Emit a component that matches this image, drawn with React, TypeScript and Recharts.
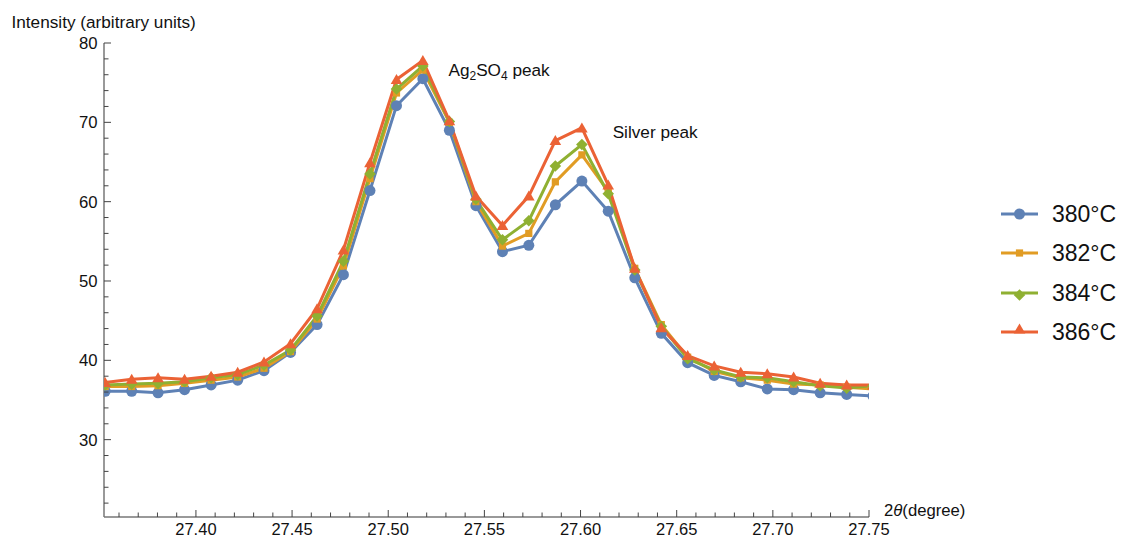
import React from 'react'
import { LineChart, Line, XAxis, YAxis, ReferenceDot } from 'recharts'

// 2θ positions of the scan points (degree)
const twoTheta = [
  27.3528, 27.3666, 27.3803, 27.3941, 27.4079, 27.4217, 27.4354, 27.4492, 27.463, 27.4767,
  27.4905, 27.5043, 27.518, 27.5318, 27.5456, 27.5594, 27.5731, 27.5869, 27.6007, 27.6144,
  27.6282, 27.642, 27.6557, 27.6695, 27.6833, 27.6971, 27.7108, 27.7246, 27.7384, 27.7521,
]

const i380 = [
  36.1, 36.1, 35.9, 36.3, 36.9, 37.5, 38.7, 41.0, 44.5, 50.8,
  61.4, 72.1, 75.5, 69.0, 59.5, 53.7, 54.5, 59.6, 62.6, 58.8,
  50.4, 43.4, 39.7, 38.1, 37.3, 36.4, 36.3, 35.9, 35.7, 35.5,
]
const i382 = [
  36.7, 36.7, 36.8, 37.1, 37.5, 37.9, 39.0, 41.1, 45.2, 51.9,
  62.9, 73.7, 76.6, 70.0, 60.0, 54.4, 56.0, 62.5, 65.9, 61.3,
  51.6, 44.5, 40.4, 38.6, 37.8, 37.5, 37.0, 36.9, 36.6, 36.4,
]
const i384 = [
  36.9, 37.0, 37.1, 37.3, 37.8, 38.2, 39.4, 41.3, 45.6, 52.5,
  63.5, 74.2, 77.1, 70.1, 60.3, 55.2, 57.6, 64.5, 67.2, 61.0,
  51.4, 44.3, 40.2, 38.8, 37.9, 37.8, 37.3, 36.8, 36.5, 36.8,
]
const i386 = [
  37.2, 37.6, 37.8, 37.6, 38.0, 38.5, 39.8, 42.1, 46.5, 53.9,
  64.9, 75.4, 77.8, 70.2, 60.7, 57.0, 60.7, 67.7, 69.3, 62.1,
  51.6, 44.1, 40.6, 39.3, 38.5, 38.3, 37.9, 37.1, 36.9, 36.9,
]

const seriesNames = ['380°C', '382°C', '384°C', '386°C']

const xTicks = [
  27.36, 27.37, 27.38, 27.39, 27.4, 27.41, 27.42, 27.43, 27.44, 27.45,
  27.46, 27.47, 27.48, 27.49, 27.5, 27.51, 27.52, 27.53, 27.54, 27.55,
  27.56, 27.57, 27.58, 27.59, 27.6, 27.61, 27.62, 27.63, 27.64, 27.65,
  27.66, 27.67, 27.68, 27.69, 27.7, 27.71, 27.72, 27.73, 27.74, 27.75,
]
const xLabels = [27.4, 27.45, 27.5, 27.55, 27.6, 27.65, 27.7, 27.75]

const yTicks = [
  22, 24, 26, 28, 30, 32, 34, 36, 38, 40, 42, 44, 46, 48, 50,
  52, 54, 56, 58, 60, 62, 64, 66, 68, 70, 72, 74, 76, 78, 80,
]
const yLabels = [30, 40, 50, 60, 70, 80]

const data = twoTheta.map((x, i) => ({
  x,
  s380: i380[i],
  s382: i382[i],
  s384: i384[i],
  s386: i386[i],
}))

const COLORS = ['#5E81B5', '#E19C24', '#8FB032', '#EB6235']
const FONT = '"Liberation Sans", Arial, sans-serif'
const AXIS = '#777'

type Shape = 'circle' | 'square' | 'diamond' | 'triangle'
const shapes: Shape[] = ['circle', 'square', 'diamond', 'triangle']

function marker(shape: Shape, cx: number, cy: number, color: string, key?: any) {
  if (shape === 'circle') return <circle key={key} cx={cx} cy={cy} r={5.5} fill={color} />
  if (shape === 'square') return <rect key={key} x={cx - 3.6} y={cy - 3.6} width={7.2} height={7.2} fill={color} />
  if (shape === 'diamond')
    return <polygon key={key} points={`${cx},${cy - 5.8} ${cx + 5.8},${cy} ${cx},${cy + 5.8} ${cx - 5.8},${cy}`} fill={color} />
  return <polygon key={key} points={`${cx},${cy - 5.5} ${cx + 5.8},${cy + 4.5} ${cx - 5.8},${cy + 4.5}`} fill={color} />
}

const makeDot = (shape: Shape, color: string) => (props: any) => {
  const { cx, cy, index } = props
  if (cx == null || cy == null) return <g key={index} />
  return marker(shape, cx, cy, color, index)
}

const XTick = (props: any) => {
  const { x, y, payload } = props
  const v = payload.value
  const major = xLabels.some((l) => Math.abs(l - v) < 1e-6)
  return (
    <g>
      <line x1={x} x2={x} y1={y} y2={y - (major ? 7 : 4.5)} stroke="#444" strokeWidth={1} />
      {major && (
        <text x={x} y={y + 17.5} textAnchor="middle" fontFamily={FONT} fontSize={16.5} fill="#111">
          {v.toFixed(2)}
        </text>
      )}
    </g>
  )
}

const YTick = (props: any) => {
  const { x, y, payload } = props
  const v = payload.value
  const major = yLabels.includes(v)
  return (
    <g>
      <line x1={x} x2={x + (major ? 7 : 4.5)} y1={y} y2={y} stroke="#444" strokeWidth={1} />
      {major && (
        <text x={x - 6.5} y={y + 6} textAnchor="end" fontFamily={FONT} fontSize={16.7} fill="#111">
          {v}
        </text>
      )}
    </g>
  )
}

const Note = (label: React.ReactNode) => (props: any) => (
  <text x={props.cx} y={props.cy} fontFamily={FONT} fontSize={17.2} fill="#111">
    {label}
  </text>
)

export default function App() {
  const keys = ['s380', 's382', 's384', 's386']
  return (
    <div style={{ position: 'absolute', left: 0, top: 0, width: 1124, height: 539, background: '#fff' }}>
      <LineChart width={1124} height={539} data={data} margin={{ top: 43, right: 255, bottom: 0, left: 0 }}>
        <XAxis
          dataKey="x"
          type="number"
          domain={[27.3522, 27.75]}
          allowDataOverflow
          ticks={xTicks}
          interval={0}
          height={22}
          tickSize={0}
          tickMargin={0}
          tickLine={false}
          axisLine={{ stroke: AXIS, strokeWidth: 1.5 }}
          tick={<XTick />}
        />
        <YAxis
          type="number"
          domain={[20.25, 80]}
          allowDataOverflow
          ticks={yTicks}
          interval={0}
          width={104}
          tickSize={0}
          tickMargin={0}
          tickLine={false}
          axisLine={{ stroke: AXIS, strokeWidth: 1.5 }}
          tick={<YTick />}
        />
        {keys.map((k, i) => (
          <Line
            key={k}
            dataKey={k}
            name={seriesNames[i]}
            stroke={COLORS[i]}
            strokeWidth={3}
            type="linear"
            dot={makeDot(shapes[i], COLORS[i])}
            activeDot={false}
            isAnimationActive={false}
          />
        ))}
        <ReferenceDot
          x={27.5313}
          y={75.8}
          r={0}
          shape={Note(
            <>
              Ag<tspan fontSize={12} dy={4}>2</tspan>
              <tspan dy={-4}>SO</tspan>
              <tspan fontSize={12} dy={4}>4</tspan>
              <tspan dy={-4}> peak</tspan>
            </>
          )}
        />
        <ReferenceDot x={27.6167} y={68.0} r={0} shape={Note('Silver peak')} />
      </LineChart>

      <svg width={1124} height={539} style={{ position: 'absolute', left: 0, top: 0, pointerEvents: 'none' }}>
        <text x={11.5} y={27.5} fontFamily={FONT} fontSize={17.2} fill="#111">
          Intensity (arbitrary units)
        </text>
        <text x={884} y={516} fontFamily={FONT} fontSize={16.7} fill="#111">
          2<tspan fontStyle="italic">θ</tspan>(degree)
        </text>
      </svg>

      <div style={{ position: 'absolute', left: 998, top: 194, fontFamily: FONT }}>
        {seriesNames.map((name, i) => (
          <div key={name} style={{ display: 'flex', alignItems: 'center', height: 39.5 }}>
            <svg width={44} height={24}>
              <line x1={3} x2={40} y1={12} y2={12} stroke={COLORS[i]} strokeWidth={3} />
              {marker(shapes[i], 21.5, shapes[i] === 'diamond' ? 14 : shapes[i] === 'triangle' ? 9 : 12, COLORS[i])}
            </svg>
            <span style={{ fontSize: 23, color: '#111', marginLeft: 10, lineHeight: '24px' }}>{name}</span>
          </div>
        ))}
      </div>
    </div>
  )
}
